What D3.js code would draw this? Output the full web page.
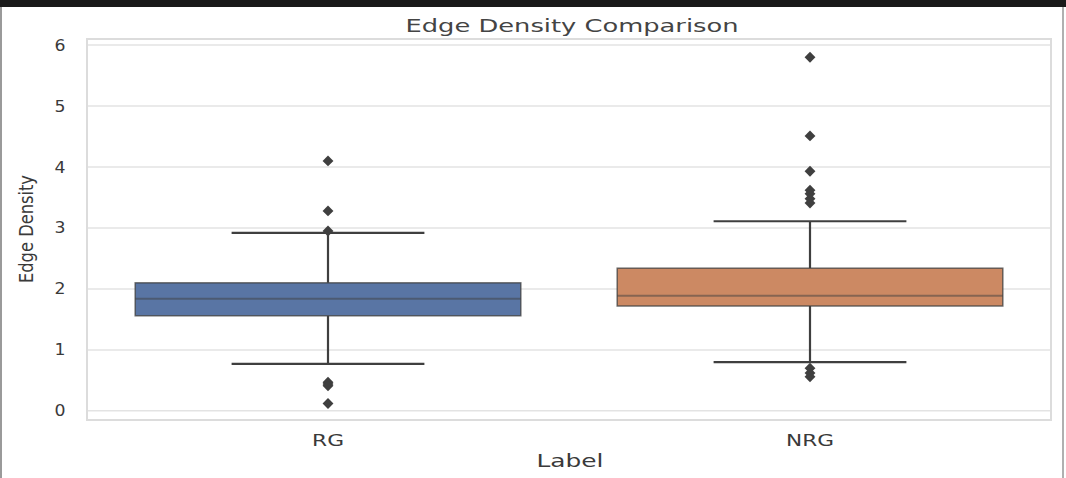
<html>
<head>
  <title>Edge Density Comparison</title>
  <script src="https://d3js.org/d3.v7.min.js"></script>
</head>
<style>
  body { margin: 0; background: #fff; }
  svg text { font-family: "DejaVu Sans", sans-serif; fill: #3a3a3a; }
</style>
<body>
<svg width="1066" height="478"></svg>
<script>
  // box stats
  let categories = ["RG", "NRG"];
  let q1 = [1.56, 1.72];
  let median = [1.84, 1.89];
  let q3 = [2.10, 2.34];
  let whiskerLow = [0.77, 0.80];
  let whiskerHigh = [2.92, 3.11];
  let outliersRG = [4.10, 3.28, 2.95, 0.47, 0.44, 0.41, 0.12];
  let outliersNRG = [5.80, 4.51, 3.93, 3.62, 3.56, 3.48, 3.41, 0.70, 0.62, 0.56];
  let colors = ["#5975a4", "#cc8963"];
  let yTicks = [0, 1, 2, 3, 4, 5, 6];

  let svg = d3.select("svg"),
      plotLeft = 87, plotRight = 1051, plotTop = 39, plotBottom = 420;

  // outer screenshot frame
  svg.append("rect").attr("x", 0).attr("y", 0).attr("width", 1066).attr("height", 7).attr("fill", "#1a1a1a");
  svg.append("rect").attr("x", 0).attr("y", 7).attr("width", 2).attr("height", 471).attr("fill", "#9a9a9a");
  svg.append("rect").attr("x", 1062).attr("y", 7).attr("width", 2).attr("height", 471).attr("fill", "#b0b0b0");

  let xScale = d3.scaleBand().domain(categories).range([plotLeft, plotRight]);
  let yScale = d3.scaleLinear().domain([-0.15, 6.1]).range([plotBottom, plotTop]);

  let g = svg.append("g");

  // grid lines
  g.selectAll("line.grid")
      .data(yTicks)
      .enter()
      .append("line")
      .attr("class", "grid")
      .attr("x1", plotLeft).attr("x2", plotRight)
      .attr("y1", d => yScale(d)).attr("y2", d => yScale(d))
      .attr("stroke", "#e3e3e3")
      .attr("stroke-width", 1.5);

  // frame of the axes
  g.append("rect")
      .attr("x", plotLeft).attr("y", plotTop)
      .attr("width", plotRight - plotLeft).attr("height", plotBottom - plotTop)
      .attr("fill", "none")
      .attr("stroke", "#dcdcdc")
      .attr("stroke-width", 2);

  // y tick labels
  g.selectAll("text.ytick")
      .data(yTicks)
      .enter()
      .append("text")
      .attr("class", "ytick")
      .attr("x", 60)
      .attr("y", d => yScale(d) + 5.5)
      .attr("text-anchor", "middle")
      .attr("font-size", 16)
      .attr("textLength", 11)
      .attr("lengthAdjust", "spacingAndGlyphs")
      .text(d => d);

  // x tick labels
  let xLabelWidths = [32, 48];
  g.selectAll("text.xtick")
      .data(categories)
      .enter()
      .append("text")
      .attr("class", "xtick")
      .attr("x", d => xScale(d) + xScale.bandwidth() / 2)
      .attr("y", 446)
      .attr("text-anchor", "middle")
      .attr("font-size", 15)
      .attr("textLength", (d, i) => xLabelWidths[i])
      .attr("lengthAdjust", "spacingAndGlyphs")
      .text(d => d);

  // titles
  svg.append("text")
      .attr("x", 572).attr("y", 32)
      .attr("text-anchor", "middle")
      .attr("font-size", 17)
      .attr("textLength", 333)
      .attr("lengthAdjust", "spacingAndGlyphs")
      .style("fill", "#444")
      .text("Edge Density Comparison");

  svg.append("text")
      .attr("x", 570).attr("y", 467)
      .attr("text-anchor", "middle")
      .attr("font-size", 17)
      .attr("textLength", 67)
      .attr("lengthAdjust", "spacingAndGlyphs")
      .text("Label");

  svg.append("text")
      .attr("transform", "translate(33,229) rotate(-90)")
      .attr("text-anchor", "middle")
      .attr("font-size", 20)
      .attr("textLength", 108)
      .attr("lengthAdjust", "spacingAndGlyphs")
      .text("Edge Density");

  // boxes
  let lineColor = "#3f3f3f";
  let bw = xScale.bandwidth();
  categories.forEach(function (c, i) {
    let cx = xScale(c) + bw / 2;
    let boxW = bw * 0.8, capW = bw * 0.4;
    let box = g.append("g");

    // whisker stems
    box.append("line")
        .attr("x1", cx).attr("x2", cx)
        .attr("y1", yScale(q3[i])).attr("y2", yScale(whiskerHigh[i]))
        .attr("stroke", lineColor).attr("stroke-width", 2.2);
    box.append("line")
        .attr("x1", cx).attr("x2", cx)
        .attr("y1", yScale(q1[i])).attr("y2", yScale(whiskerLow[i]))
        .attr("stroke", lineColor).attr("stroke-width", 2.2);

    // caps
    [whiskerLow[i], whiskerHigh[i]].forEach(function (v) {
      box.append("line")
          .attr("x1", cx - capW / 2).attr("x2", cx + capW / 2)
          .attr("y1", yScale(v)).attr("y2", yScale(v))
          .attr("stroke", lineColor).attr("stroke-width", 2.2);
    });

    box.append("rect")
        .attr("x", cx - boxW / 2)
        .attr("y", yScale(q3[i]))
        .attr("width", boxW)
        .attr("height", yScale(q1[i]) - yScale(q3[i]))
        .attr("fill", colors[i])
        .attr("stroke", lineColor)
        .attr("stroke-opacity", 0.75)
        .attr("stroke-width", 1.5);

    box.append("line")
        .attr("x1", cx - boxW / 2).attr("x2", cx + boxW / 2)
        .attr("y1", yScale(median[i])).attr("y2", yScale(median[i]))
        .attr("stroke", lineColor).attr("stroke-opacity", 0.5)
        .attr("stroke-width", 2);

    let out = i === 0 ? outliersRG : outliersNRG;
    let diamond = d3.symbol().type(d3.symbolDiamond2).size(75);
    box.selectAll("path.flier")
        .data(out)
        .enter()
        .append("path")
        .attr("class", "flier")
        .attr("d", diamond)
        .attr("transform", d => "translate(" + cx + "," + yScale(d) + ")")
        .attr("fill", lineColor);
  });
</script>
</body>
</html>
